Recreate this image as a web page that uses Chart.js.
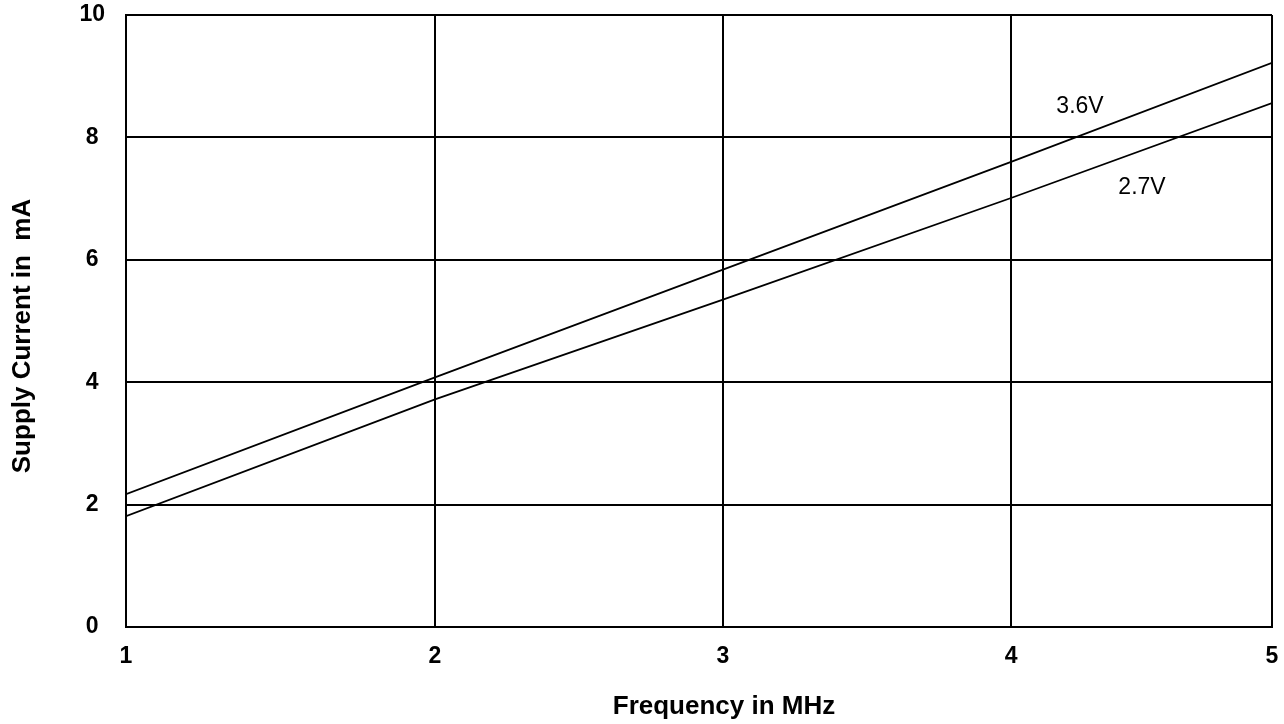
<!DOCTYPE html>
<html>
<head>
<meta charset="utf-8">
<script src="https://cdn.jsdelivr.net/npm/chart.js@4.4.1/dist/chart.umd.min.js"></script>
<style>
  html, body { margin: 0; padding: 0; background: #fff; }
  #wrap { width: 1284px; height: 724px; }
</style>
</head>
<body>
<div id="wrap"><canvas id="chart" width="1284" height="724"></canvas></div>
<script>
// ========== DATA ==========
const freqTicks = [1, 2, 3, 4, 5];                 // MHz
const current36V = [2.17, 4.08, 5.84, 7.60, 9.22]; // mA
const current27V = [1.81, 3.72, 5.35, 7.01, 8.56]; // mA
const currentTicks = [0, 2, 4, 6, 8, 10];
const seriesNames = ['3.6V', '2.7V'];

// the original x grid is not evenly spaced, these are where each tick sits (0..1 of the width)
const xGridStops = [0, 0.2696, 0.5209, 0.7723, 1];

// ========== CUSTOM SCALE ==========
class StretchedScale extends Chart.LinearScale {
  toDecimal(value) {
    const n = freqTicks.length;
    if (value <= freqTicks[0]) return xGridStops[0];
    for (let i = 0; i < n - 1; i++) {
      const a = freqTicks[i], b = freqTicks[i + 1];
      if (value <= b || i === n - 2) {
        return xGridStops[i] + (value - a) / (b - a) * (xGridStops[i + 1] - xGridStops[i]);
      }
    }
    return xGridStops[n - 1];
  }
  getPixelForValue(value) {
    if (value === null || value === undefined) return NaN;
    return this.getPixelForDecimal(this.toDecimal(value));
  }
  getValueForPixel(pixel) {
    const d = this.getDecimalForPixel(pixel);
    for (let i = 0; i < freqTicks.length - 1; i++) {
      if (d <= xGridStops[i + 1]) {
        const t = (d - xGridStops[i]) / (xGridStops[i + 1] - xGridStops[i]);
        return freqTicks[i] + t * (freqTicks[i + 1] - freqTicks[i]);
      }
    }
    return freqTicks[freqTicks.length - 1];
  }
}
StretchedScale.id = 'stretched';
StretchedScale.defaults = Chart.LinearScale.defaults;
Chart.register(StretchedScale);

// ========== TEXT LABELS ==========
const textPlugin = {
  id: 'texts',
  afterDraw(chart) {
    const ctx = chart.ctx;
    ctx.save();
    ctx.fillStyle = '#000';
    ctx.textAlign = 'center';
    ctx.textBaseline = 'middle';

    // axis titles
    ctx.font = 'bold 26px "Liberation Sans", Arial, sans-serif';
    ctx.fillText('Frequency in MHz', 724, 707);
    ctx.save();
    ctx.translate(23, 336);
    ctx.rotate(-Math.PI / 2);
    ctx.fillText('Supply Current in  mA', 0, 0);
    ctx.restore();

    // series names next to the lines
    ctx.font = '23px "Liberation Sans", Arial, sans-serif';
    ctx.fillText(seriesNames[0], 1080, 107);
    ctx.fillText(seriesNames[1], 1142, 188);
    ctx.restore();
  }
};

Chart.defaults.font.family = '"Liberation Sans", Arial, sans-serif';
Chart.defaults.color = '#000';

new Chart(document.getElementById('chart'), {
  type: 'line',
  data: {
    datasets: [
      {
        label: seriesNames[0],
        data: freqTicks.map((f, i) => ({ x: f, y: current36V[i] })),
        borderColor: '#000',
        borderWidth: 1.8,
        pointRadius: 0,
        tension: 0
      },
      {
        label: seriesNames[1],
        data: freqTicks.map((f, i) => ({ x: f, y: current27V[i] })),
        borderColor: '#000',
        borderWidth: 1.8,
        pointRadius: 0,
        tension: 0
      }
    ]
  },
  options: {
    responsive: false,
    animation: false,
    layout: { autoPadding: false, padding: { left: 0, right: 12, top: 15, bottom: 0 } },
    plugins: {
      legend: { display: false },
      tooltip: { enabled: false }
    },
    scales: {
      x: {
        type: 'stretched',
        min: freqTicks[0],
        max: freqTicks[freqTicks.length - 1],
        afterBuildTicks: s => { s.ticks = freqTicks.map(v => ({ value: v })); },
        afterFit: s => {
          s.height = 97;
          s.paddingLeft = 0;
          s.paddingRight = 0;
        },
        grid: { color: '#000', lineWidth: 2, drawTicks: false },
        border: { display: true, color: '#000', width: 2 },
        ticks: {
          padding: 16,
          maxRotation: 0,
          font: { size: 23, weight: 'bold' }
        }
      },
      y: {
        type: 'linear',
        min: 0,
        max: 10,
        afterBuildTicks: s => { s.ticks = currentTicks.map(v => ({ value: v })); },
        afterFit: s => {
          s.width = 126;
          s.paddingTop = 0;
          s.paddingBottom = 0;
        },
        grid: { color: '#000', lineWidth: 2, drawTicks: false },
        border: { display: true, color: '#000', width: 2 },
        ticks: {
          padding: 21,
          crossAlign: 'center',
          font: { size: 23, weight: 'bold' }
        }
      }
    }
  },
  plugins: [textPlugin]
});
</script>
</body>
</html>
